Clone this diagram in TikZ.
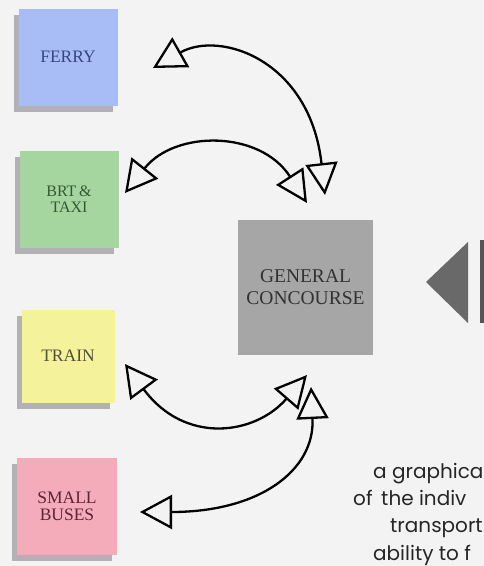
\documentclass[tikz,border=0pt]{standalone}
\usepackage{fontspec}
\setmainfont{Liberation Serif}
\newfontfamily\geo{Poppins}
\usetikzlibrary{arrows.meta,shadows}
\definecolor{bg}{RGB}{243,243,243}
\definecolor{ferryc}{RGB}{168,188,246}
\definecolor{brtc}{RGB}{166,214,160}
\definecolor{trainc}{RGB}{245,242,156}
\definecolor{busc}{RGB}{245,172,186}
\definecolor{concc}{RGB}{166,166,166}
\definecolor{shad}{RGB}{178,178,182}
\definecolor{darktri}{RGB}{105,105,105}
\definecolor{darkbar}{RGB}{85,85,85}
\definecolor{ferryt}{RGB}{55,70,130}
\definecolor{brtt}{RGB}{50,90,50}
\definecolor{traint}{RGB}{80,80,60}
\definecolor{bust}{RGB}{95,35,50}
\definecolor{conct}{RGB}{50,50,50}
\tikzset{
  modebox/.style={minimum width=99pt, minimum height=97pt, inner sep=0pt,
    align=center, font=\fontsize{17.5}{17}\selectfont,
    general shadow={fill=shad, shadow xshift=-5pt, shadow yshift=-6pt}},
  link/.style={line width=2.3pt,
    {Triangle[open,length=32pt,width=34pt]}-{Triangle[open,length=32pt,width=32pt]}},
  caption/.style={anchor=base west, inner sep=0pt, font=\geo\fontsize{20}{24}\selectfont, text=black!85}
}
\begin{document}
\begin{tikzpicture}[x=1pt,y=-1pt]
\useasboundingbox (0,0) rectangle (484,566);
\fill[bg] (0,0) rectangle (484,566);

\node[modebox, fill=ferryc, text=ferryt] (ferry) at (68,57) {FERRY};
\node[modebox, fill=brtc, text=brtt, font=\fontsize{16}{16}\selectfont] (brt) at (69,199) {BRT\,\&\\TAXI};
\node[modebox, fill=trainc, text=traint, minimum width=93pt, minimum height=93pt] (train) at (68,356) {TRAIN};
\node[modebox, fill=busc, text=bust, minimum width=100pt] (buses) at (67,506) {SMALL\\BUSES};
\node[minimum width=135pt, minimum height=135pt, inner sep=0pt, fill=concc, text=conct,
  align=center, font=\fontsize{19.5}{22}\selectfont] (conc) at (305.5,287.5) {GENERAL\\CONCOURSE};

\fill[darktri] (426,282) -- (468,242) -- (468,323) -- cycle;
\fill[darkbar] (480,240) rectangle (490,323);

\coordinate (f1) at (153,68);
\coordinate (f2) at (325,195);
\coordinate (b1) at (125,193);
\coordinate (b2) at (307,203);
\coordinate (t1) at (125,364);
\coordinate (t2) at (307,375);
\coordinate (s1) at (140,512);
\coordinate (s2) at (311,387);

\draw[link] (f1) .. controls (220,30) and (310,60) .. (f2);
\draw[link] (b1) .. controls (175,130) and (260,130) .. (b2);
\draw[link] (t1) .. controls (185,445) and (255,435) .. (t2);
\draw[link] (s1) .. controls (260,512) and (315,470) .. (s2);

\node[caption] (c1) at (373,478) {a graphica};
\node[caption] (c2) at (353,505) {of\, the indiv};
\node[caption] (c3) at (390,532) {transport};
\node[caption] (c4) at (373,560) {ability to f};
\end{tikzpicture}
\end{document}
